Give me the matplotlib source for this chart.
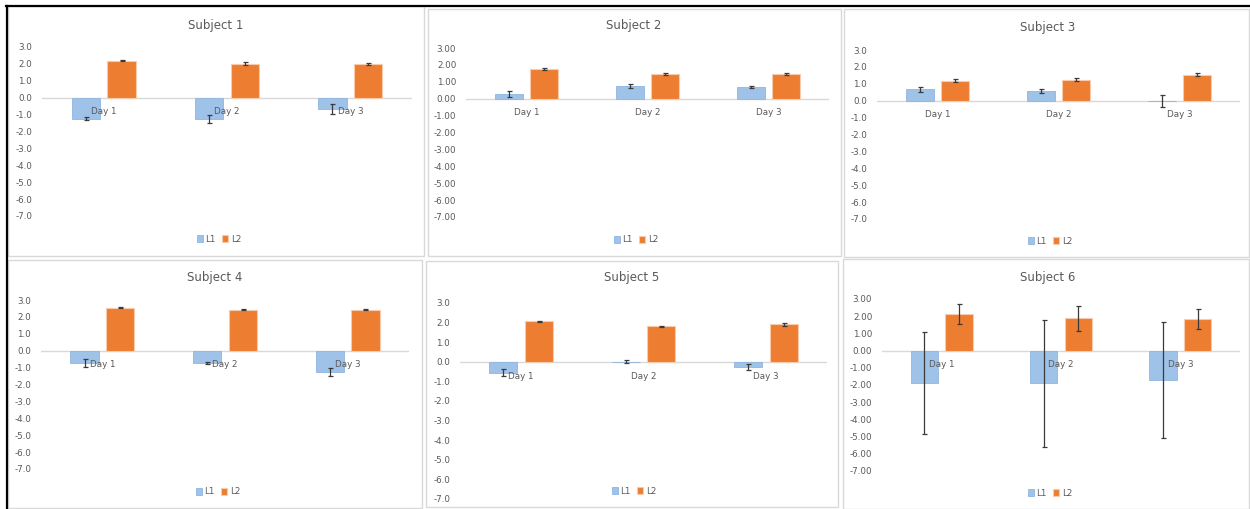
import matplotlib
matplotlib.use('Agg')
import matplotlib.pyplot as plt
from matplotlib.patches import Rectangle
from matplotlib.lines import Line2D
import numpy as np

# values
days = ['Day 1', 'Day 2', 'Day 3']
subjects = ['Subject 1', 'Subject 2', 'Subject 3', 'Subject 4', 'Subject 5', 'Subject 6']
series = ['L1', 'L2']

l1_means = [[-1.25, -1.27, -0.65],
            [0.29, 0.73, 0.69],
            [0.67, 0.57, 0.00],
            [-0.72, -0.73, -1.27],
            [-0.56, 0.00, -0.27],
            [-1.87, -1.90, -1.71]]
l1_err = [[0.08, 0.25, 0.30],
          [0.16, 0.12, 0.08],
          [0.16, 0.10, 0.36],
          [0.25, 0.05, 0.22],
          [0.19, 0.08, 0.14],
          [2.96, 3.70, 3.40]]
l2_means = [[2.18, 2.02, 1.98],
            [1.76, 1.45, 1.47],
            [1.18, 1.24, 1.53],
            [2.53, 2.43, 2.43],
            [2.07, 1.81, 1.92],
            [2.13, 1.88, 1.83]]
l2_err = [[0.03, 0.07, 0.07],
          [0.07, 0.05, 0.04],
          [0.08, 0.10, 0.08],
          [0.03, 0.03, 0.03],
          [0.03, 0.03, 0.07],
          [0.60, 0.72, 0.60]]
tick_fmt = ['%.1f', '%.2f', '%.1f', '%.1f', '%.1f', '%.2f']
y_ticks = [3, 2, 1, 0, -1, -2, -3, -4, -5, -6, -7]

W, H = 1250, 509
fig = plt.figure(figsize=(12.5, 5.09), dpi=100)

def fx(px):
    return px / W

def fy(py):
    return 1 - py / H

# panel frames (left, top, right, bottom) in pixels
frames = [(8, 6, 424, 256), (428, 9, 841, 256), (844, 9, 1249, 257),
          (8, 260, 422, 508), (426, 261, 838, 507), (843, 259, 1249, 509)]
# plot areas (left, right, y at 3, y at -7)
areas = [(42, 412, 47, 216), (466, 829, 48, 217), (877, 1240, 50, 219),
         (41, 409, 300, 469), (460, 827, 303, 499), (882, 1240, 299, 471)]
titles_pos = [(216, 25), (634, 26), (1048, 28), (215, 278), (632, 278), (1048, 278)]
legend_pos = [(219, 239), (636, 240), (1050, 241), (218, 492), (634, 491), (1050, 493)]

for l, t, r, b in frames:
    fig.patches.append(Rectangle((fx(l), fy(b)), fx(r) - fx(l), fy(t) - fy(b),
                                 transform=fig.transFigure, fill=False,
                                 edgecolor='#d9d9d9', lw=1.0))

text_col = '#595959'
blue = '#9fc2e8'
orange = '#ed7d31'
x = np.arange(len(days))
bw = 0.23
off = 0.145

for i in range(6):
    l, r, t, b = areas[i]
    ax = fig.add_axes([fx(l), fy(b), fx(r) - fx(l), fy(t) - fy(b)])
    ax.axhline(0, color='#d9d9d9', lw=1.0, zorder=1)
    ax.bar(x - off, l1_means[i], bw, color=blue, edgecolor='#8fb6e0', lw=0.6,
           label=series[0], zorder=2)
    ax.bar(x + off, l2_means[i], bw, color=orange, edgecolor='#f8cbad', lw=0.8,
           label=series[1], zorder=2)
    ax.errorbar(x - off, l1_means[i], yerr=l1_err[i], fmt='none', ecolor='#3a3a3a',
                elinewidth=0.9, capsize=1.8, capthick=0.9, zorder=3)
    ax.errorbar(x + off, l2_means[i], yerr=l2_err[i], fmt='none', ecolor='#3a3a3a',
                elinewidth=0.9, capsize=1.8, capthick=0.9, zorder=3)
    ax.set_xlim(-0.5, 2.5)
    ax.set_ylim(-7, 3)
    ax.set_yticks(y_ticks)
    ax.set_yticklabels([tick_fmt[i] % v for v in y_ticks], fontsize=6.3, color=text_col)
    ax.tick_params(axis='y', length=0, pad=7)
    ax.set_xticks([])
    for s in ax.spines.values():
        s.set_visible(False)
    ax.patch.set_alpha(0)
    for j, d in enumerate(days):
        ax.annotate(d, xy=(j, 0), xytext=(0, -7), textcoords='offset points',
                    ha='center', va='top', fontsize=6.3, color=text_col, zorder=5)
    tx, ty = titles_pos[i]
    fig.text(fx(tx), fy(ty), subjects[i], ha='center', va='center',
             fontsize=8.5, color=text_col)
    lx, ly = legend_pos[i]
    ax.legend(loc='center', bbox_to_anchor=(fx(lx), fy(ly)),
              bbox_transform=fig.transFigure, ncol=2, frameon=False,
              fontsize=6.3, labelcolor=text_col, handlelength=0.7, handleheight=0.7,
              columnspacing=0.7, handletextpad=0.3)

# black outer border on top and left
fig.add_artist(Line2D([fx(6), fx(1250)], [fy(6), fy(6)], transform=fig.transFigure,
                      color='black', lw=1.6))
fig.add_artist(Line2D([fx(7), fx(7)], [fy(6), fy(509)], transform=fig.transFigure,
                      color='black', lw=1.6))

fig.savefig('out.png', dpi=100)
